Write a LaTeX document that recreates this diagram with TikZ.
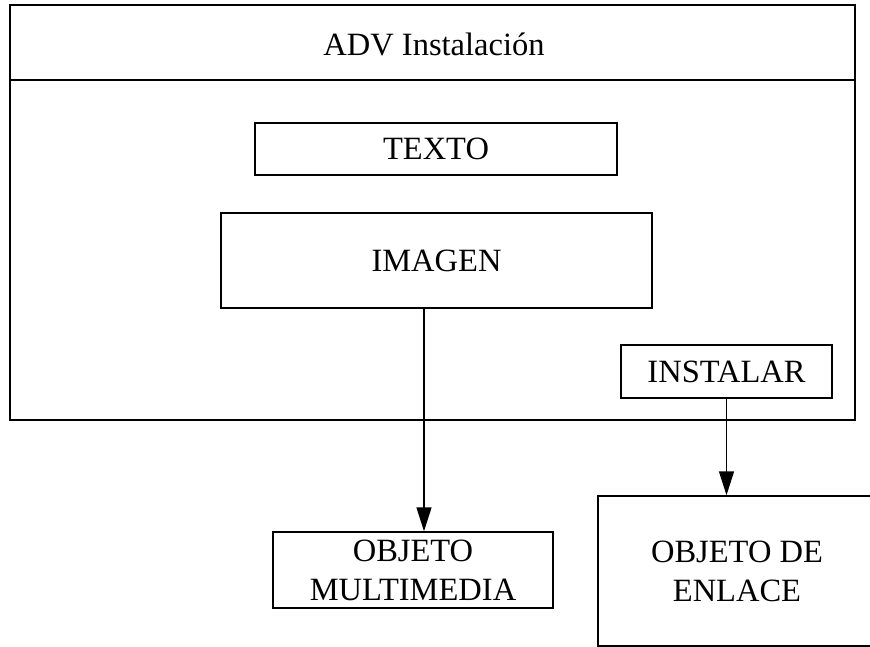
\documentclass[tikz,border=0pt]{standalone}
\usepackage{fontspec}
\setmainfont{Liberation Serif}
\usetikzlibrary{arrows.meta}
\begin{document}
\begin{tikzpicture}[x=1pt,y=-1pt,
  box/.style={draw=black, line width=1.5pt, rectangle, inner sep=0pt, align=center,
    font=\fontsize{32.5}{39}\selectfont},
  arr/.style={line width=1.5pt, -{Triangle[width=15pt,length=24pt]}}]
\useasboundingbox (0,0) rectangle (870,646);
\node[box, minimum width=845pt, minimum height=415pt] (outer) at (432.5,212.5) {};
\draw[line width=1.5pt] (outer.west |- 0,80) -- (outer.east |- 0,80);
\node[font=\fontsize{32.5}{39}\selectfont] (title) at (434,44) {ADV Instalación};
\node[box, minimum width=362pt, minimum height=52pt] (texto) at (436,149) {TEXTO};
\node[box, minimum width=431pt, minimum height=95pt] (imagen) at (436.5,260.5) {IMAGEN};
\node[box, minimum width=211pt, minimum height=53pt] (instalar) at (726.5,371.5) {INSTALAR};
\node[box, minimum width=280pt, minimum height=76pt] (multi) at (413,570) {OBJETO\\MULTIMEDIA};
\node[box, minimum width=278pt, minimum height=150pt] (enlace) at (737,571) {OBJETO DE\\ENLACE};
\coordinate (ax) at (424,0);
\draw[arr] (imagen.south -| ax) -- (multi.north -| ax);
\draw[arr] (instalar.south) -- (instalar.south |- enlace.north);
\end{tikzpicture}
\end{document}
